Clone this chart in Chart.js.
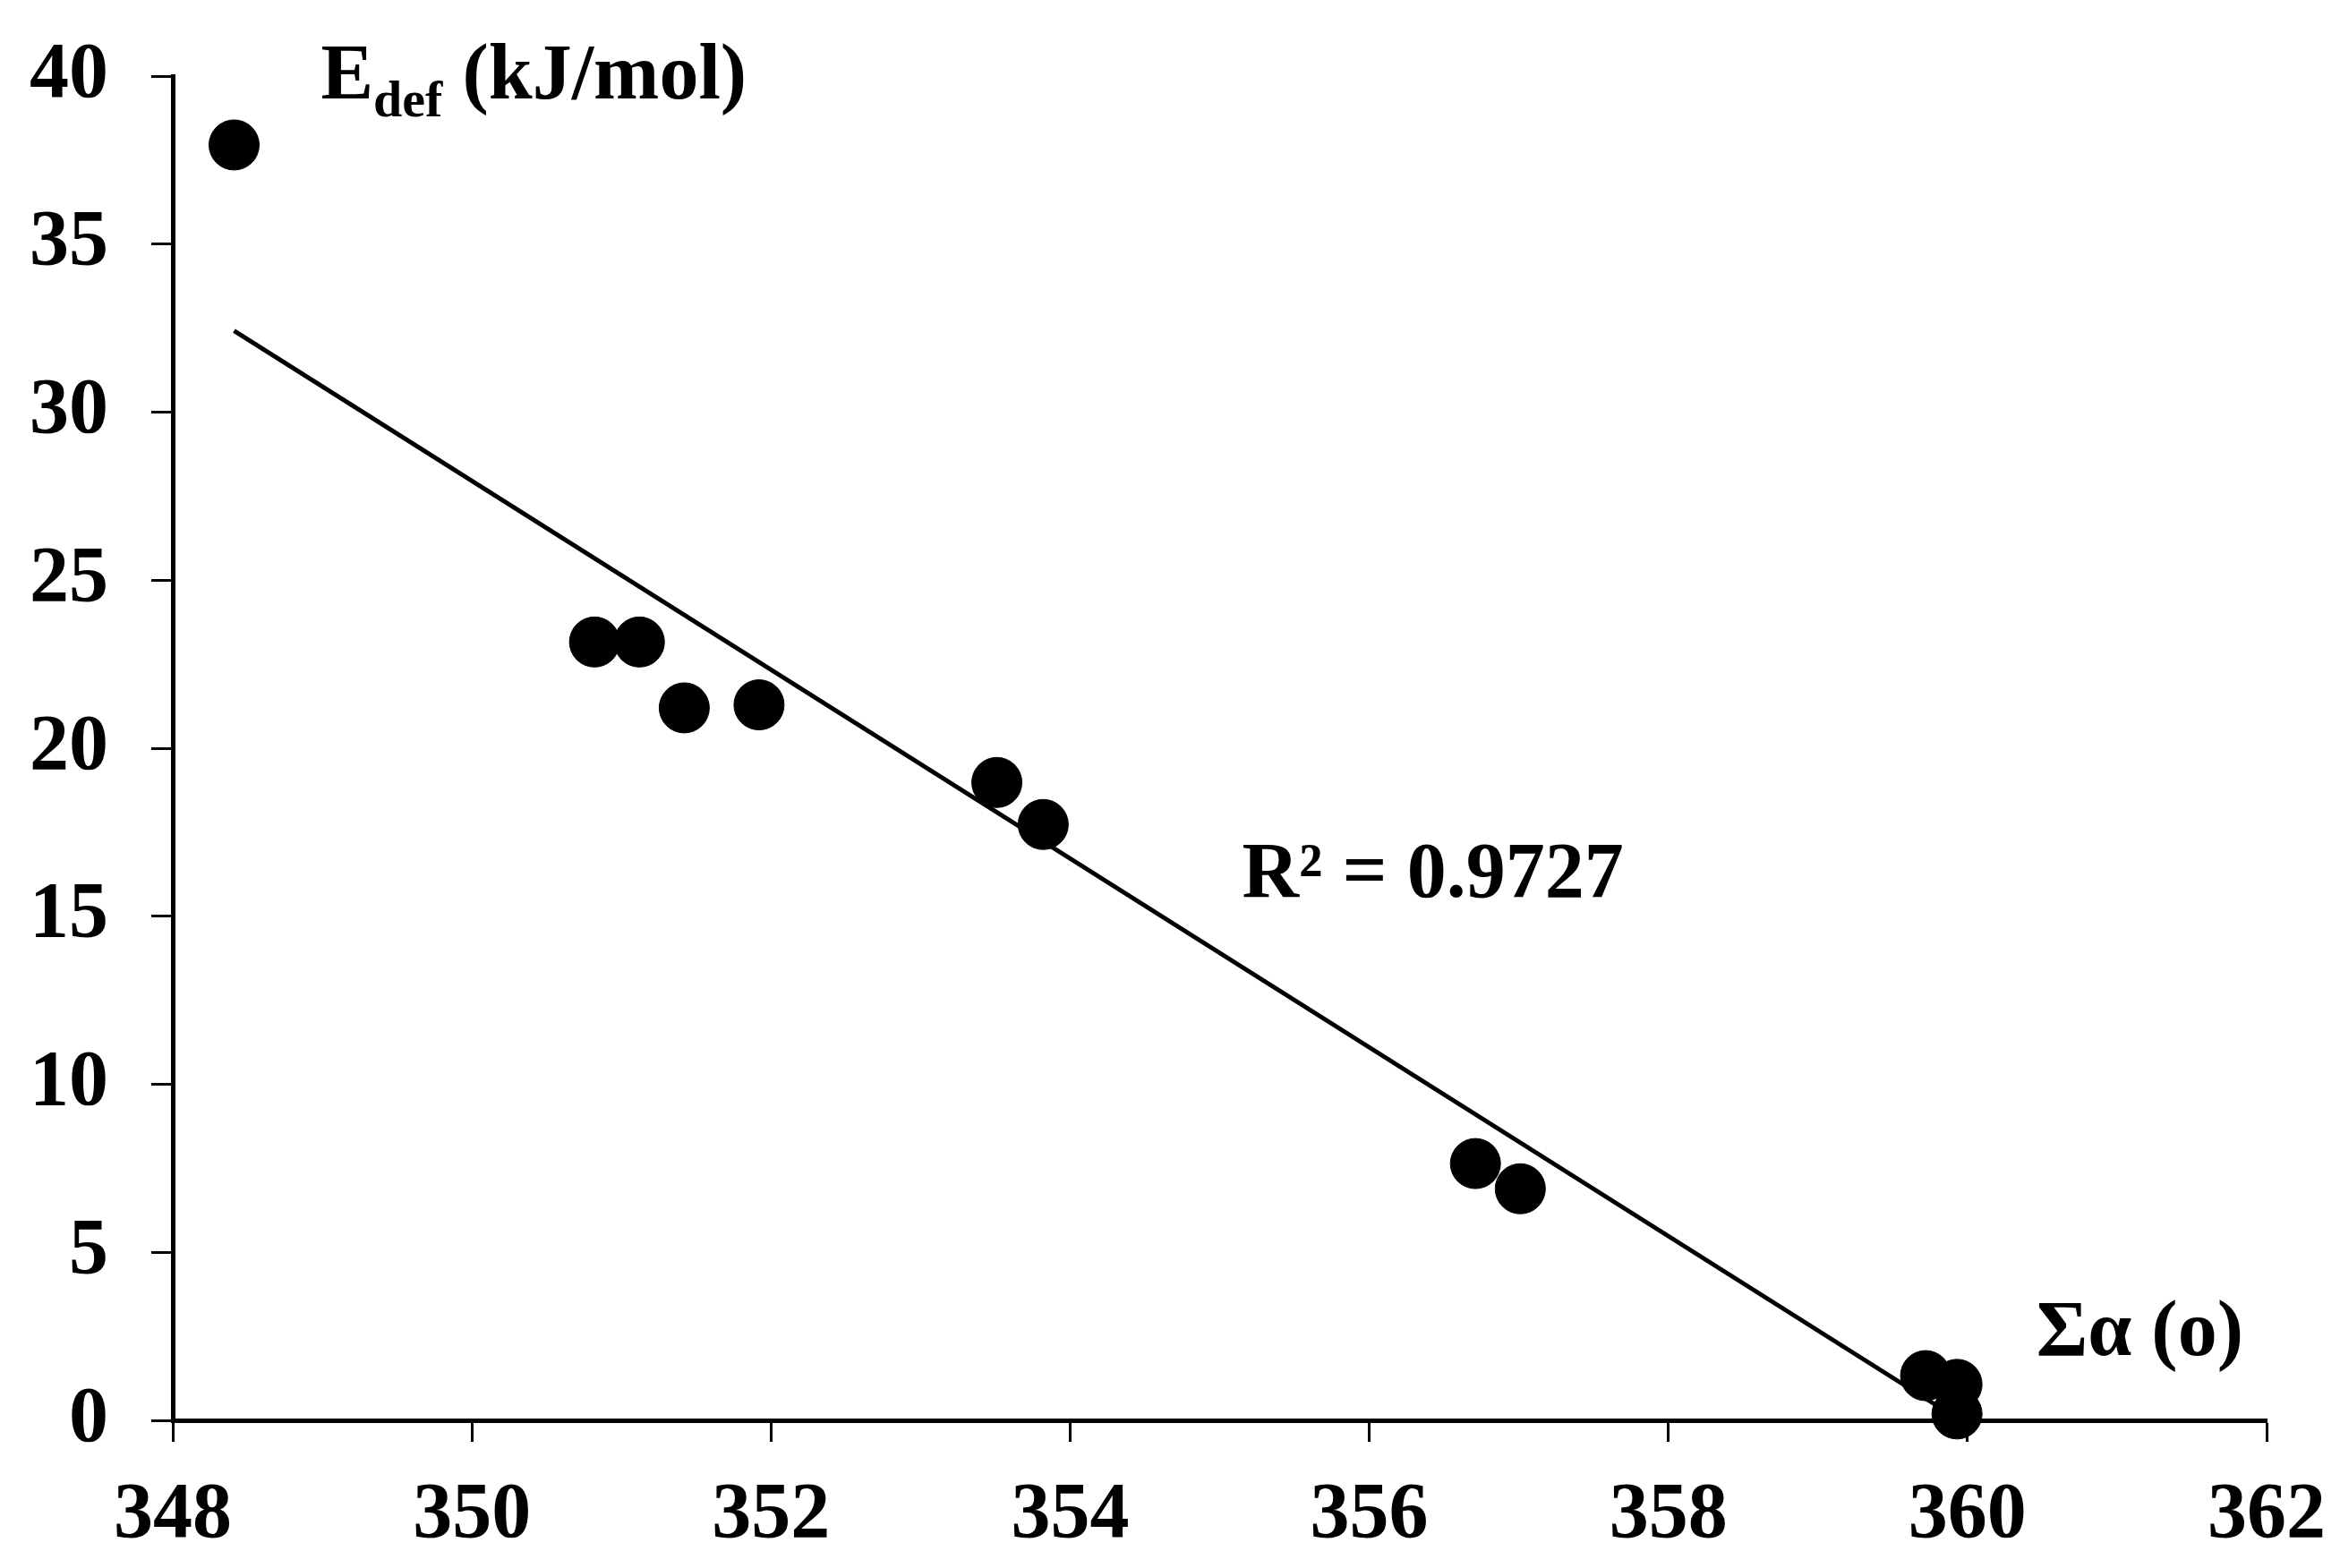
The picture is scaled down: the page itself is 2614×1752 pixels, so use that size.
<!DOCTYPE html>
<html>
<head>
<meta charset="utf-8">
<title>Edef vs Sum alpha</title>
<script src="https://cdn.jsdelivr.net/npm/chart.js@4.4.1/dist/chart.umd.min.js"></script>
<style>
    html, body { margin: 0; padding: 0; background: #ffffff; }
    #wrap { width: 2614px; height: 1752px; }
</style>
</head>
<body>
<div id="wrap"><canvas id="edefChart" width="2614" height="1752"></canvas></div>
<script>
// --- DATA ---
const sumAlpha = [348.41, 350.82, 351.12, 351.42, 351.92, 353.51, 353.82, 356.71, 357.01, 359.72, 359.93, 359.93];
const edefValues = [37.95, 23.16, 23.16, 21.2, 21.29, 18.98, 17.73, 7.64, 6.89, 1.33, 1.07, 0.19];
// trendline end points as drawn in the figure
const trendX = [348.41, 359.93];
const trendY = [32.42, 0.06];
const xTicks = [348, 350, 352, 354, 356, 358, 360, 362];
const yTicks = [0, 5, 10, 15, 20, 25, 30, 35, 40];
const r2Label = 'R\u00B2 = 0.9727';

const FONT = '"Liberation Serif", "Times New Roman", serif';

const scatterPoints = sumAlpha.map((x, i) => ({ x, y: edefValues[i] }));
const trendPoints = trendX.map((x, i) => ({ x, y: trendY[i] }));

// --- TEXT LABELS (placed in data coordinates) ---
const textLabels = {
    id: 'textLabels',
    afterDraw(chart) {
        const { ctx, scales: { x, y } } = chart;
        ctx.save();
        ctx.fillStyle = '#000';
        ctx.textBaseline = 'alphabetic';
        ctx.textAlign = 'left';

        // y axis title: E_def (kJ/mol)
        let px = x.getPixelForValue(348.99);
        const py = y.getPixelForValue(39.33);
        ctx.font = 'bold 88px ' + FONT;
        ctx.fillText('E', px, py);
        px += ctx.measureText('E').width;
        ctx.font = 'bold 58px ' + FONT;
        ctx.fillText('def', px, py + 20);
        px += ctx.measureText('def').width;
        ctx.font = 'bold 88px ' + FONT;
        ctx.fillText(' (kJ/mol)', px, py);

        // x axis title
        ctx.fillText('\u03A3\u03B1 (o)', x.getPixelForValue(360.46), y.getPixelForValue(1.94));

        // R squared
        ctx.fillText(r2Label, x.getPixelForValue(355.15), y.getPixelForValue(15.58));
        ctx.restore();
    }
};

// scales should not push the plot area around: the layout padding decides it
function noScalePadding(s) {
    s.paddingLeft = 0;
    s.paddingRight = 0;
    s.paddingTop = 0;
    s.paddingBottom = 0;
}

// --- CHART ---
const ctx = document.getElementById('edefChart').getContext('2d');
new Chart(ctx, {
    data: {
        datasets: [
            {
                type: 'line',
                data: trendPoints,
                borderColor: '#000',
                borderWidth: 5,
                pointRadius: 0,
                fill: false,
                order: 2
            },
            {
                type: 'scatter',
                data: scatterPoints,
                backgroundColor: '#000',
                borderColor: '#000',
                pointRadius: 28,
                pointHoverRadius: 28,
                clip: false,
                order: 1
            }
        ]
    },
    options: {
        responsive: false,
        animation: false,
        events: [],
        layout: { padding: { left: 0, right: 82, top: 85, bottom: 0 } },
        plugins: { legend: { display: false }, tooltip: { enabled: false } },
        scales: {
            x: {
                type: 'linear',
                min: xTicks[0],
                max: xTicks[xTicks.length - 1],
                afterBuildTicks: s => { s.ticks = xTicks.map(v => ({ value: v })); },
                afterFit: s => { s.height = 165; noScalePadding(s); },
                border: { display: true, color: '#000', width: 5 },
                grid: { drawOnChartArea: false, drawTicks: true, tickLength: 24, tickWidth: 3, color: '#000' },
                ticks: { color: '#000', padding: 30, maxRotation: 0, font: { family: FONT, size: 88, weight: 'bold', lineHeight: 1.2 } }
            },
            y: {
                type: 'linear',
                min: yTicks[0],
                max: yTicks[yTicks.length - 1],
                afterBuildTicks: s => { s.ticks = yTicks.map(v => ({ value: v })); },
                afterFit: s => { s.width = 193; noScalePadding(s); },
                border: { display: true, color: '#000', width: 5 },
                grid: { drawOnChartArea: false, drawTicks: true, tickLength: 24, tickWidth: 3, color: '#000' },
                ticks: { color: '#000', padding: 48, font: { family: FONT, size: 88, weight: 'bold' } }
            }
        }
    },
    plugins: [textLabels]
});
</script>
</body>
</html>
